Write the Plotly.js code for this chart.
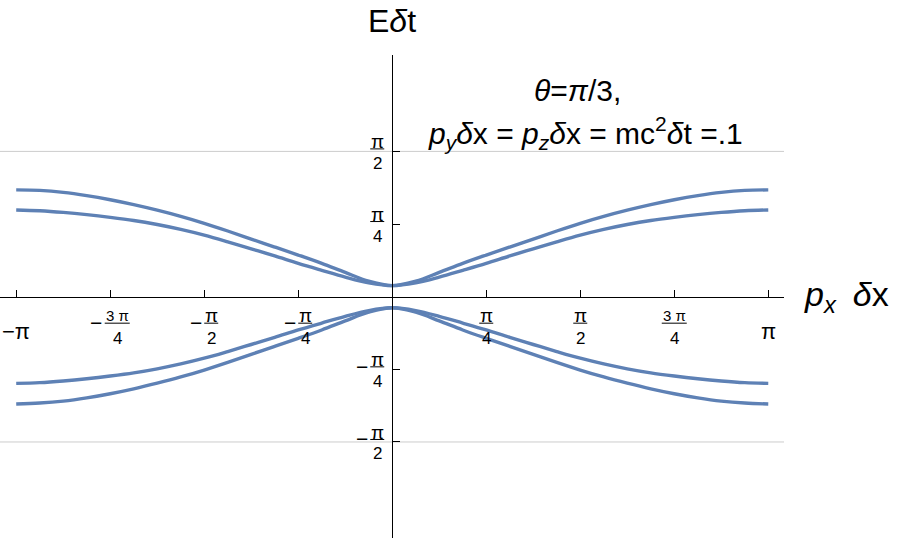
<!DOCTYPE html>
<html>
<head>
<meta charset="utf-8">
<script src="https://cdn.plot.ly/plotly-3.0.1.min.js"></script>
<style>html,body{margin:0;padding:0;background:#fff;}#chart{width:897px;height:541px;}</style>
</head>
<body>
<div id="chart"></div>
<script>
// ---- data ----
const px = [-3.1416,-2.9452,-2.7489,-2.5525,-2.3562,-2.1598,-1.9635,-1.7671,-1.5708,-1.3744,-1.1781,-0.9817,-0.7854,-0.5890,-0.3927,-0.1963,0,
            0.1963,0.3927,0.5890,0.7854,0.9817,1.1781,1.3744,1.5708,1.7671,1.9635,2.1598,2.3562,2.5525,2.7489,2.9452,3.1416];
const upperOuter = [1.155,1.149,1.128,1.093,1.048,0.995,0.935,0.868,0.793,0.71,0.623,0.537,0.45,0.36,0.262,0.168,0.12,
                    0.168,0.262,0.36,0.45,0.537,0.623,0.71,0.793,0.868,0.935,0.995,1.048,1.093,1.128,1.149,1.155];
const upperInner = [0.938,0.929,0.911,0.887,0.858,0.824,0.78,0.727,0.665,0.593,0.517,0.44,0.36,0.285,0.212,0.15,0.12,
                    0.15,0.212,0.285,0.36,0.44,0.517,0.593,0.665,0.727,0.78,0.824,0.858,0.887,0.911,0.929,0.938];
const lowerInner = [-0.937,-0.929,-0.911,-0.887,-0.858,-0.824,-0.78,-0.727,-0.665,-0.593,-0.517,-0.44,-0.36,-0.285,-0.212,-0.15,-0.12,
                    -0.15,-0.212,-0.285,-0.36,-0.44,-0.517,-0.593,-0.665,-0.727,-0.78,-0.824,-0.858,-0.887,-0.911,-0.929,-0.937];
const lowerOuter = [-1.16,-1.15,-1.129,-1.094,-1.049,-0.996,-0.935,-0.868,-0.793,-0.71,-0.623,-0.537,-0.45,-0.36,-0.262,-0.168,-0.12,
                    -0.168,-0.262,-0.36,-0.45,-0.537,-0.623,-0.71,-0.793,-0.868,-0.935,-0.996,-1.049,-1.094,-1.129,-1.15,-1.16];

const PI = Math.PI;
const xTickVals = [-PI, -3*PI/4, -PI/2, -PI/4, PI/4, PI/2, 3*PI/4, PI];
const xTickSign = ['−','−','−','−','','','',''];
const xTickNum  = ['π','3 π','π','π','π','π','3 π','π'];
const xTickDen  = ['','4','2','4','4','2','4',''];
const yTickVals = [-PI/2, -PI/4, PI/4, PI/2];
const yTickSign = ['−','−','',''];
const yTickNum  = ['π','π','π','π'];
const yTickDen  = ['2','4','4','2'];
const gridVals  = [-PI/2, PI/2];

const xRange = [-3.277, 3.273];
const yRange = [-2.609, 2.613];

const FONT = 'Liberation Sans, Arial, sans-serif';
const BLUE = '#5E81B5';

const W = 897, H = 541, M = {l: 0, r: 113, t: 55, b: 3};
const pxPerX = (W - M.l - M.r) / (xRange[1] - xRange[0]);
const pxPerY = (H - M.t - M.b) / (yRange[1] - yRange[0]);

const series = [upperOuter, upperInner, lowerInner, lowerOuter];
const traces = series.map(s => ({
  x: px, y: s, type: 'scatter', mode: 'lines',
  line: {color: BLUE, width: 3.4, shape: 'spline', smoothing: 1},
  hoverinfo: 'skip', showlegend: false
}));

const annotations = [];
const shapes = [];
function bar(xc, yc, dxPix, dyPix, halfW) {
  // short fraction bar, offsets given in pixels (dy positive = up)
  shapes.push({type: 'line', xref: 'x', yref: 'y',
    x0: xc + (dxPix - halfW) / pxPerX, x1: xc + (dxPix + halfW) / pxPerX,
    y0: yc + dyPix / pxPerY, y1: yc + dyPix / pxPerY,
    line: {color: '#000', width: 1}});
}

// x tick labels
xTickVals.forEach((v, i) => {
  if (!xTickDen[i]) {
    annotations.push({x: v, y: 0, xref: 'x', yref: 'y', text: xTickSign[i] + xTickNum[i],
      showarrow: false, xanchor: 'center', yanchor: 'middle', yshift: -35,
      font: {family: FONT, size: 22, color: '#000'}});
    return;
  }
  const neg = xTickSign[i] !== '';
  const wide = xTickNum[i].length > 1;
  const barW = wide ? 25 : 14;
  const fx = neg ? 7 : 0;
  annotations.push({x: v, y: 0, xref: 'x', yref: 'y', text: xTickNum[i], showarrow: false,
    xanchor: 'center', yanchor: 'middle', xshift: fx, yshift: -19.3,
    font: {family: FONT, size: wide ? 15 : 19, color: '#000'}});
  annotations.push({x: v, y: 0, xref: 'x', yref: 'y', text: xTickDen[i], showarrow: false,
    xanchor: 'center', yanchor: 'middle', xshift: fx, yshift: -42,
    font: {family: FONT, size: 17, color: '#000'}});
  bar(v, 0, fx, -26.5, barW / 2);
  if (neg) {
    annotations.push({x: v, y: 0, xref: 'x', yref: 'y', text: '−', showarrow: false,
      xanchor: 'center', yanchor: 'middle', xshift: fx - (barW / 2 + 8.5), yshift: -26,
      font: {family: FONT, size: 21, color: '#000'}});
  }
});

// y tick labels
yTickVals.forEach((v, i) => {
  const fx = -15;
  annotations.push({x: 0, y: v, xref: 'x', yref: 'y', text: yTickNum[i], showarrow: false,
    xanchor: 'center', yanchor: 'middle', xshift: fx, yshift: 9.6,
    font: {family: FONT, size: 19, color: '#000'}});
  annotations.push({x: 0, y: v, xref: 'x', yref: 'y', text: yTickDen[i], showarrow: false,
    xanchor: 'center', yanchor: 'middle', xshift: fx, yshift: -12,
    font: {family: FONT, size: 17, color: '#000'}});
  bar(0, v, fx, 2.5, 7);
  if (yTickSign[i]) {
    annotations.push({x: 0, y: v, xref: 'x', yref: 'y', text: '−', showarrow: false,
      xanchor: 'center', yanchor: 'middle', xshift: -30, yshift: 3,
      font: {family: FONT, size: 21, color: '#000'}});
  }
});

// grid lines at ±π/2
gridVals.forEach(g => shapes.push({type: 'line', xref: 'paper', yref: 'y', x0: 0, x1: 1, y0: g, y1: g,
  line: {color: '#cccccc', width: 1}, layer: 'below'}));

// axis labels and note
annotations.push({x: 0, y: 1, xref: 'x', yref: 'paper', text: 'E<i>δ</i>t', showarrow: false,
  xanchor: 'center', yanchor: 'middle', yshift: 34, font: {family: FONT, size: 32, color: '#000'}});
annotations.push({x: 1, y: 0, xref: 'paper', yref: 'y', text: '<i>p</i><sub><i>x</i></sub>\u2002<i>δ</i>x',
  showarrow: false, xanchor: 'left', yanchor: 'middle', xshift: 18, yshift: 0,
  font: {family: FONT, size: 34, color: '#000'}});
annotations.push({x: 0.737, y: 0.9255, xref: 'paper', yref: 'paper', text: '<i>θ</i>=<i>π</i>/3,',
  showarrow: false, xanchor: 'center', yanchor: 'middle', font: {family: FONT, size: 30, color: '#000'}});
annotations.push({x: 0.747, y: 0.838, xref: 'paper', yref: 'paper',
  text: '<i>p</i><sub><i>y</i></sub><i>δ</i>x = <i>p</i><sub><i>z</i></sub><i>δ</i>x = mc<sup>2</sup><i>δ</i>t =.1',
  showarrow: false, xanchor: 'center', yanchor: 'middle', font: {family: FONT, size: 30, color: '#000'}});

const layout = {
  width: W, height: H,
  margin: {l: M.l, r: M.r, t: M.t, b: M.b, pad: 0},
  paper_bgcolor: '#fff', plot_bgcolor: '#fff',
  showlegend: false,
  font: {family: FONT, color: '#000'},
  xaxis: {range: xRange, anchor: 'free', position: (0 - yRange[0]) / (yRange[1] - yRange[0]),
    showline: true, linecolor: '#000', linewidth: 1, ticks: 'inside', ticklen: 7, tickwidth: 1, tickcolor: '#000',
    tickmode: 'array', tickvals: xTickVals, showticklabels: false, showgrid: false, zeroline: false, automargin: false},
  yaxis: {range: yRange, anchor: 'free', position: (0 - xRange[0]) / (xRange[1] - xRange[0]),
    showline: true, linecolor: '#000', linewidth: 1, ticks: 'inside', ticklen: 7, tickwidth: 1, tickcolor: '#000',
    tickmode: 'array', tickvals: yTickVals, showticklabels: false, showgrid: false, zeroline: false, automargin: false},
  annotations: annotations,
  shapes: shapes
};

Plotly.newPlot('chart', traces, layout, {staticPlot: true, displayModeBar: false});
</script>
</body>
</html>
